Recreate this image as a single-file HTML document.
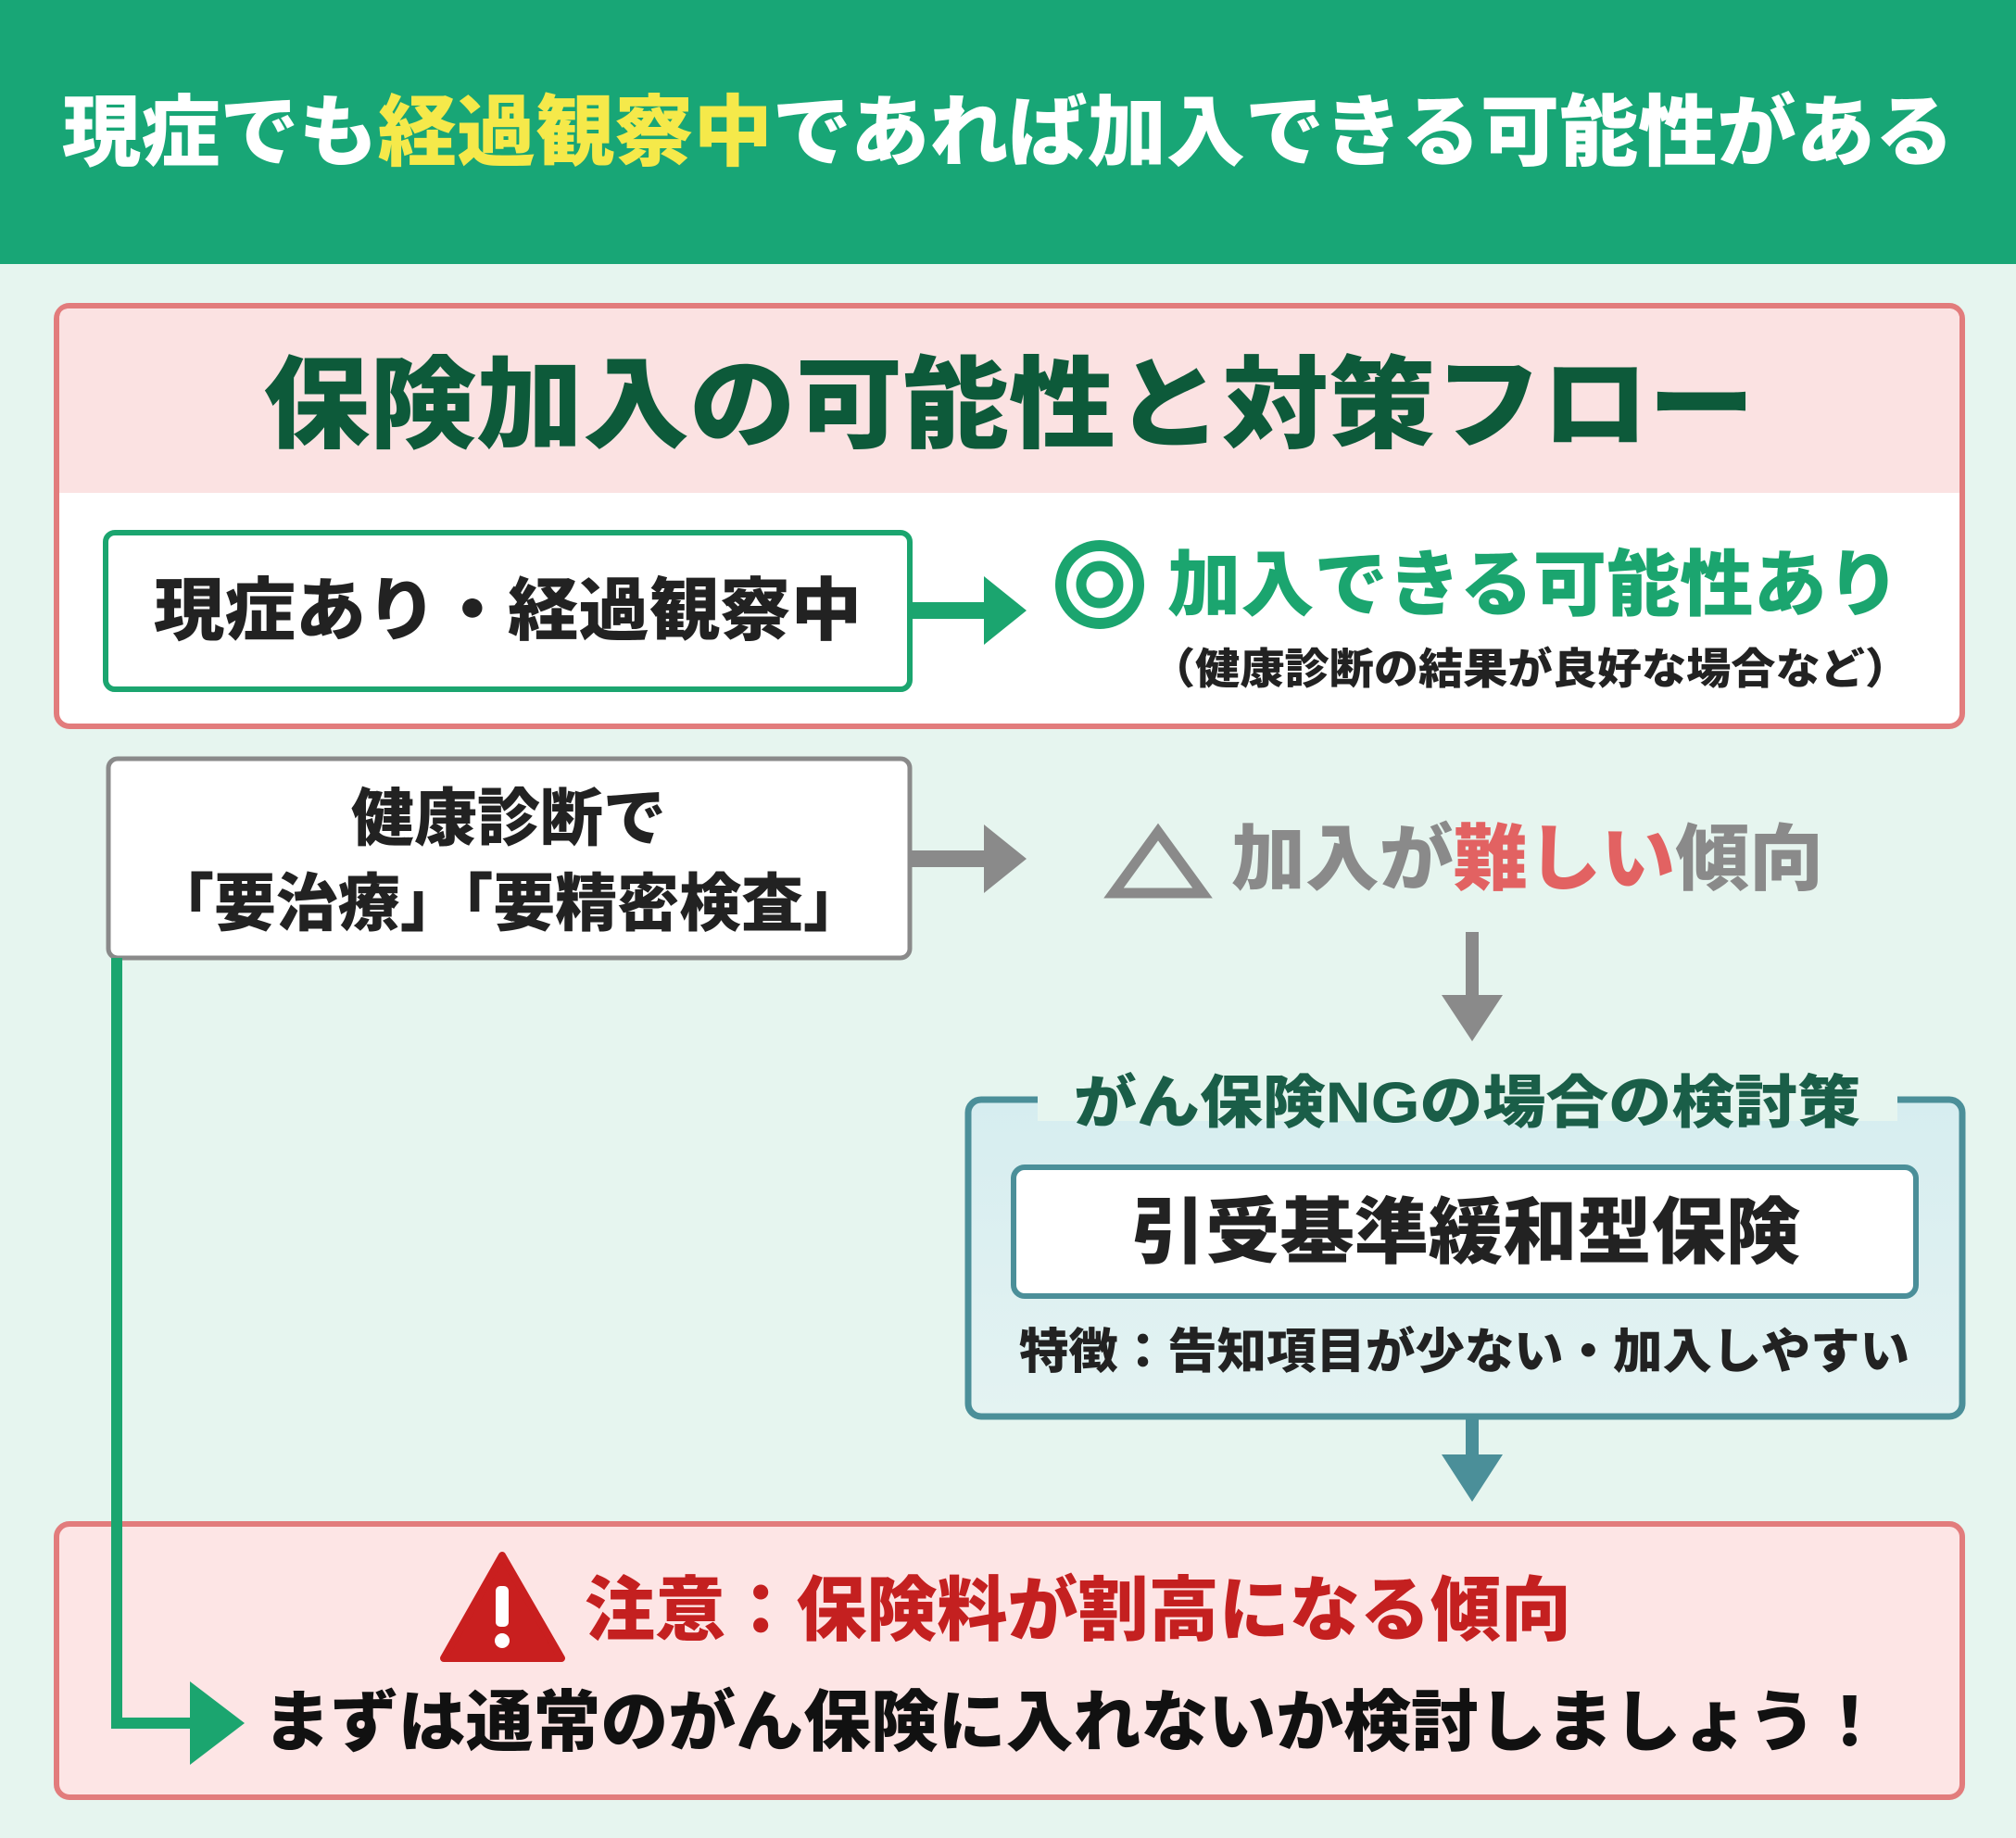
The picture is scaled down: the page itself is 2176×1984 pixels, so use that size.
<!DOCTYPE html>
<html><head><meta charset="utf-8"><style>
html,body{margin:0;padding:0;background:#e6f5ef;}
svg{display:block;}
text{font-family:"Liberation Sans","Noto Sans CJK JP",sans-serif;font-weight:900;dominant-baseline:central;}
</style></head><body>
<svg width="2176" height="1984" viewBox="0 0 2176 1984" xmlns="http://www.w3.org/2000/svg">
<defs>
<linearGradient id="tg" x1="0" y1="0" x2="0" y2="1"><stop offset="0" stop-color="#d6edf0"/><stop offset="1" stop-color="#e4f3f2"/></linearGradient>
</defs>
<rect width="2176" height="1984" fill="#e6f5ef"/>
<!-- header -->
<rect x="0" y="0" width="2176" height="285" fill="#18a676"/>
<text x="67" y="143" font-size="84" fill="#fff" textLength="2042" lengthAdjust="spacingAndGlyphs">現症でも<tspan fill="#f5e94a">経過観察中</tspan>であれば加入できる可能性がある</text>

<!-- box 1 -->
<rect x="61" y="330" width="2057" height="454" rx="14" fill="#fff" stroke="#e27c7c" stroke-width="6"/>
<path d="M64 344 Q64 333 75 333 L2101 333 Q2115 333 2115 344 L2115 532 L64 532 Z" fill="#fbe2e2"/>
<text x="284" y="437" font-size="108" fill="#0d5a3a" textLength="1610" lengthAdjust="spacingAndGlyphs">保険加入の可能性と対策フロー</text>

<rect x="114" y="575" width="868" height="169" rx="10" fill="#fff" stroke="#1ba56f" stroke-width="6"/>
<text x="166" y="659" font-size="74" fill="#222" textLength="764" lengthAdjust="spacingAndGlyphs">現症あり・経過観察中</text>
<rect x="982" y="650" width="92" height="18" fill="#1ba56f"/>
<polygon points="1062,622 1108,659 1062,696" fill="#1ba56f"/>
<circle cx="1187" cy="631" r="42" fill="none" stroke="#1ba56f" stroke-width="12"/>
<circle cx="1187" cy="631" r="20" fill="none" stroke="#1ba56f" stroke-width="11"/>
<text x="1260" y="631" font-size="78" fill="#1ba56f" textLength="791" lengthAdjust="spacingAndGlyphs">加入できる可能性あり</text>
<text x="1242" y="722" font-size="46" fill="#222" font-weight="700" textLength="819" lengthAdjust="spacingAndGlyphs">（健康診断の結果が良好な場合など）</text>

<!-- gray box -->
<rect x="117" y="819" width="865" height="215" rx="10" fill="#fff" stroke="#8a8a8a" stroke-width="5"/>
<text x="549" y="884" font-size="68" fill="#222" text-anchor="middle">健康診断で</text>
<text x="549" y="976" font-size="68" fill="#222" text-anchor="middle" textLength="770" lengthAdjust="spacingAndGlyphs">「要治療」「要精密検査」</text>
<rect x="982" y="918" width="92" height="18" fill="#8a8a8a"/>
<polygon points="1062,890 1108,927 1062,964" fill="#8a8a8a"/>
<polygon points="1250,898 1298,964 1202,964" fill="none" stroke="#8a8a8a" stroke-width="11" stroke-linejoin="miter"/>
<text x="1329" y="927" font-size="78" fill="#8a8a8a" textLength="639" lengthAdjust="spacingAndGlyphs">加入が<tspan fill="#e26262">難しい</tspan>傾向</text>
<rect x="1582" y="1006" width="14" height="76" fill="#8a8a8a"/>
<polygon points="1556,1074 1622,1074 1589,1124" fill="#8a8a8a"/>

<!-- teal box -->
<rect x="1045" y="1187" width="1073" height="342" rx="14" fill="url(#tg)" stroke="#4b8f99" stroke-width="7"/>
<rect x="1120" y="1170" width="928" height="40" fill="#e6f5ef"/>
<text x="1159" y="1191" font-size="62" fill="#1a5e48" textLength="849" lengthAdjust="spacingAndGlyphs">がん保険NGの場合の検討策</text>
<rect x="1094" y="1260" width="974" height="139" rx="12" fill="#fff" stroke="#4b8f99" stroke-width="6"/>
<text x="1221" y="1330" font-size="78" fill="#222" textLength="722" lengthAdjust="spacingAndGlyphs">引受基準緩和型保険</text>
<text x="1100" y="1460" font-size="52" fill="#222" textLength="961" lengthAdjust="spacingAndGlyphs">特徴：告知項目が少ない・加入しやすい</text>
<rect x="1582" y="1529" width="14" height="46" fill="#4b8f99"/>
<polygon points="1556,1570 1622,1570 1589,1621" fill="#4b8f99"/>

<!-- bottom box -->
<rect x="61" y="1645" width="2057" height="295" rx="14" fill="#fde5e5" stroke="#e27c7c" stroke-width="6"/>
<polygon points="542,1679 606,1790 479,1790" fill="#c91f1f" stroke="#c91f1f" stroke-width="8" stroke-linejoin="round"/>
<rect x="535" y="1712" width="14" height="44" rx="5" fill="#fff"/>
<circle cx="542" cy="1771" r="8" fill="#fff"/>
<text x="631" y="1739" font-size="76" fill="#c42020" textLength="1065" lengthAdjust="spacingAndGlyphs">注意：保険料が割高になる傾向</text>
<text x="284" y="1860" font-size="72" fill="#111" textLength="1749" lengthAdjust="spacingAndGlyphs">まずは通常のがん保険に入れないか検討しましょう！</text>

<!-- green connector -->
<rect x="120" y="1034" width="12" height="832" fill="#1ba56f"/>
<rect x="120" y="1854" width="92" height="12" fill="#1ba56f"/>
<polygon points="205,1815 264,1860 205,1905" fill="#1ba56f"/>
</svg>
</body></html>
